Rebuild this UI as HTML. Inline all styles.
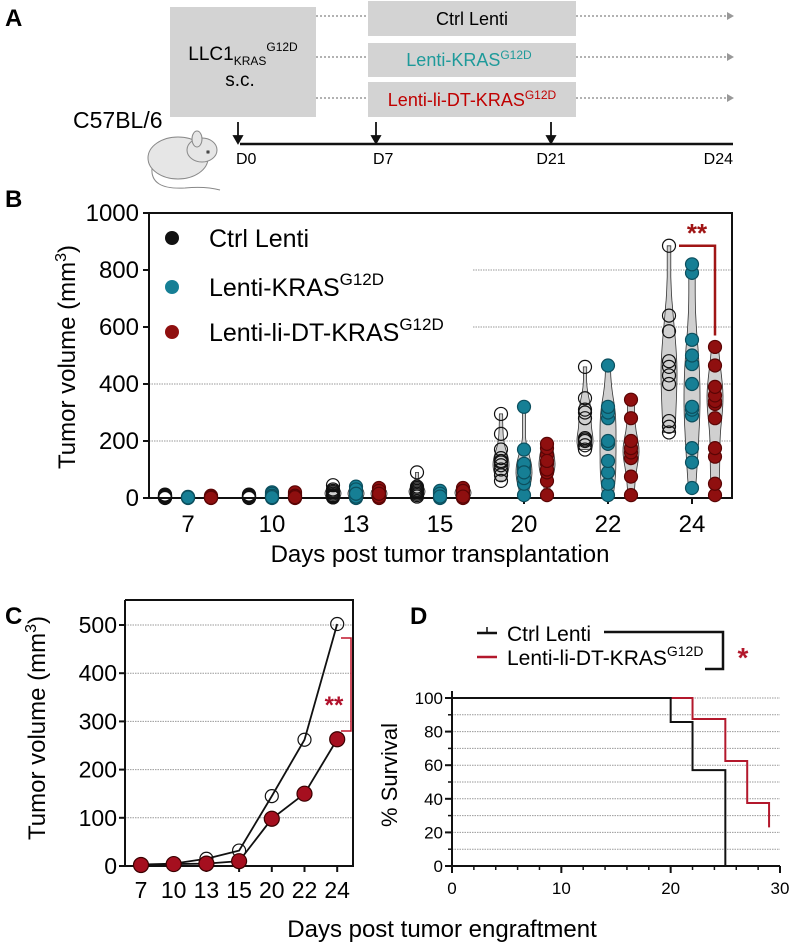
<!DOCTYPE html>
<html><head><meta charset="utf-8">
<style>
html,body{margin:0;padding:0;background:#fff;}
svg{display:block;font-family:"Liberation Sans",Arial,sans-serif;}
</style></head>
<body>
<svg id="fig" width="792" height="944" viewBox="0 0 792 944" xmlns="http://www.w3.org/2000/svg">
<!-- Panel A -->
<g>
<text x="5" y="26" font-size="24" font-weight="bold">A</text>
<rect x="170" y="7" width="146" height="110" fill="#d3d3d3"/>
<text x="243" y="60" font-size="19" text-anchor="middle">LLC1<tspan font-size="12" dy="5">KRAS</tspan><tspan font-size="12" dy="-14">G12D</tspan></text>
<text x="240" y="86" font-size="19" text-anchor="middle">s.c.</text>
<rect x="368" y="1" width="208" height="35" fill="#d3d3d3"/>
<rect x="368" y="43" width="208" height="34" fill="#d3d3d3"/>
<rect x="368" y="82" width="208" height="35" fill="#d3d3d3"/>
<text x="472" y="25" font-size="18" text-anchor="middle">Ctrl Lenti</text>
<text x="469" y="66" font-size="18" text-anchor="middle" fill="#1e9a9a">Lenti-KRAS<tspan font-size="12" dy="-7">G12D</tspan></text>
<text x="472" y="106" font-size="18" text-anchor="middle" fill="#c00000">Lenti-li-DT-KRAS<tspan font-size="12" dy="-7">G12D</tspan></text>
<g stroke="#999" stroke-width="1.5" stroke-dasharray="2,2">
<line x1="316" y1="16" x2="368" y2="16"/><line x1="316" y1="57" x2="368" y2="57"/><line x1="316" y1="98" x2="368" y2="98"/>
<line x1="576" y1="16" x2="728" y2="16"/><line x1="576" y1="57" x2="728" y2="57"/><line x1="576" y1="98" x2="728" y2="98"/>
</g>
<g fill="#999"><path d="M727,12 L734,16 L727,20Z"/><path d="M727,53 L734,57 L727,61Z"/><path d="M727,94 L734,98 L727,102Z"/></g>
<line x1="240" y1="144" x2="733" y2="144" stroke="#111" stroke-width="2.5"/>
<g stroke="#111" stroke-width="1.8" fill="#111">
<line x1="238" y1="122" x2="238" y2="138"/><path d="M234,136 L238,143 L242,136Z"/>
<line x1="376" y1="122" x2="376" y2="138"/><path d="M372,136 L376,143 L380,136Z"/>
<line x1="551" y1="122" x2="551" y2="138"/><path d="M547,136 L551,143 L555,136Z"/>
</g>
<g font-size="16">
<text x="236" y="164">D0</text><text x="373" y="164">D7</text><text x="551" y="164" text-anchor="middle">D21</text><text x="733" y="164" text-anchor="end">D24</text>
</g>
<text x="73" y="128" font-size="23">C57BL/6</text>
<g stroke="#888" stroke-width="1" fill="#e6e6e6">
<path d="M152,168 Q150,190 185,188 Q205,186 220,190" fill="none"/>
<ellipse cx="178" cy="158" rx="30" ry="21"/>
<ellipse cx="202" cy="150" rx="15" ry="12"/>
<ellipse cx="197" cy="139" rx="5" ry="8"/>
<circle cx="208" cy="152" r="1.5" fill="#333"/>
</g>
</g>

<!-- Panel B -->
<g id="pb">
<text x="5" y="207" font-size="24" font-weight="bold">B</text>
</g>
<!-- Panel C -->
<g id="pc">
<text x="5" y="624" font-size="24" font-weight="bold">C</text>
</g>
<!-- Panel D -->
<g id="pd">
<text x="410" y="624" font-size="24" font-weight="bold">D</text>
</g>
<text x="442" y="937" font-size="24" text-anchor="middle">Days post tumor engraftment</text>
</svg>
<script>
// ---------- Panel B data ----------
const bDays = ["7","10","13","15","20","22","24"];
const bCtrl = [[5,10,2,0,8,3,12,4,6],[5,8,10,3,0,12,6,2],[5,10,20,30,45,15,8,25,2],[10,20,30,40,90,25,15,35,5],[60,80,100,115,125,130,170,225,295,140],[170,185,200,205,210,280,300,310,350,460],[230,250,270,400,430,460,480,585,640,885]];
const bKras = [[0,2,3,1,4,2],[0,5,10,20,15,8,3],[0,10,20,40,30,5,15],[0,10,20,25,15,5],[10,50,70,100,110,120,170,320,90],[10,50,90,130,190,280,300,320,465,200],[35,125,175,290,310,320,400,470,500,555,790,820]];
const bLiDT = [[0,2,5,8,3,1],[0,5,10,15,20,8,3],[0,10,20,35,25,5,15],[0,10,20,30,35,25,5],[10,60,90,120,150,175,190,100,130],[10,75,140,160,175,200,280,345],[10,50,145,175,280,330,340,360,390,465,530]];
const bTicks = [0,200,400,600,800,1000];
// ---------- Panel C data ----------
const cDays = ["7","10","13","15","20","22","24"];
const cCtrl = [3,5,15,32,145,262,502];
const cLiDT = [2,4,5,10,98,150,263];
const cTicks = [0,100,200,300,400,500];
// ---------- Panel D data ----------
const dCtrlT = [0,20,22,25];
const dCtrlS = [100,85.7,57.1,0];
const dRedT = [0,22,25,27,29];
const dRedS = [100,87.5,62.5,37.5,25];
const dXTicks = [0,10,20,30];
const dYTicks = [0,20,40,60,80,100];

const NS = "http://www.w3.org/2000/svg";
function mk(parent, tag, attrs){const e=document.createElementNS(NS,tag);for(const k in attrs)e.setAttribute(k,attrs[k]);parent.appendChild(e);return e;}

// ===== Panel B =====
(function(){
 const g=document.getElementById('pb');
 const L=149,R=732,T=213,B=498;
 const y=v=>B-(v/1000)*(B-T);
 const xc=i=>188+84*i;
 bTicks.forEach(t=>{ if(t===0||t===1000)return;
   const gl=mk(g,'line',{x1:t>=600?473:L,x2:R,y1:y(t),y2:y(t),stroke:'#999','stroke-width':1,'stroke-dasharray':'1.5,1'});
   
   
 });
 const fr=mk(g,'rect',{x:L,y:T,width:R-L,height:B-T,fill:'none',stroke:'#111','stroke-width':2});
 
 
 bTicks.forEach(t=>{
   mk(g,'line',{x1:L-6,x2:L,y1:y(t),y2:y(t),stroke:'#111','stroke-width':2});
   const tx=mk(g,'text',{x:L-10,y:y(t)+8,'font-size':24,'text-anchor':'end'});tx.textContent=t;
   
   
 });
 bDays.forEach((d,i)=>{
   mk(g,'line',{x1:xc(i),x2:xc(i),y1:B,y2:B+6,stroke:'#111','stroke-width':2});
   const tx=mk(g,'text',{x:xc(i),y:532,'font-size':24,'text-anchor':'middle'});tx.textContent=d;
   
   
 });
 const series=[{d:bCtrl,off:-23,fill:'none',stroke:'#111',name:'ctrl'},{d:bKras,off:0,fill:'#167f95',stroke:'#0c4f5e',name:'kras'},{d:bLiDT,off:23,fill:'#8f0f0f',stroke:'#5a0505',name:'lidt'}];
 series.forEach(s=>{
   s.d.forEach((vals,i)=>{
     const cx=xc(i)+s.off;
     const mn=Math.min(...vals),mx=Math.max(...vals);
     const bw=Math.max(20,(mx-mn)*0.15);
     const steps=24,pts=[],pts2=[];
     let dens=[];
     for(let k=0;k<=steps;k++){const v=mn+(mx-mn)*k/steps;let s2=0;vals.forEach(q=>{s2+=Math.exp(-0.5*((v-q)/bw)**2);});dens.push([v,s2]);}
     const dm=Math.max(...dens.map(a=>a[1]));
     dens.forEach(a=>{const w=Math.max(1.5,8*a[1]/dm);pts.push((cx-w).toFixed(1)+','+y(a[0]).toFixed(1));pts2.unshift((cx+w).toFixed(1)+','+y(a[0]).toFixed(1));});
     if(mx-mn>30){
       const vp=mk(g,'polygon',{points:pts.concat(pts2).join(' '),fill:'#d0d0d0',stroke:'#333','stroke-width':0.8});
       
       
     }
     vals.forEach(v=>{
       const c=mk(g,'circle',{cx:cx,cy:y(v),r:6.5,fill:s.fill,stroke:s.stroke,'stroke-width':1.2});
       
       
     });
   });
 });
 const leg=[['Ctrl Lenti','#111',''],['Lenti-KRAS','#167f95','G12D'],['Lenti-li-DT-KRAS','#8f0f0f','G12D']];
 const ly=[238,287,332];
 leg.forEach((l,k)=>{
   const c=mk(g,'circle',{cx:172,cy:ly[k],r:7,fill:l[1]});
   
   
   const t=mk(g,'text',{x:209,y:ly[k]+9,'font-size':25});
   
   
   t.textContent=l[0];
   if(l[2]){const sp=mk(t,'tspan',{'font-size':17,dy:-11});sp.textContent=l[2];}
 });
 const br=mk(g,'path',{d:`M${xc(6)-23+10},${y(885)} H${xc(6)+23} V${y(570)}`,fill:'none',stroke:'#a01515','stroke-width':2.5});
 
 
 const st=mk(g,'text',{x:xc(6)+5,y:y(885)-4,'font-size':26,'font-weight':'bold',fill:'#a01515','text-anchor':'middle'});st.textContent='**';
 
 
 const yl=mk(g,'text',{x:0,y:0,'font-size':24,'text-anchor':'middle',transform:'translate(75,357) rotate(-90)'});
 
 
 yl.textContent='Tumor volume (mm';const s3=mk(yl,'tspan',{'font-size':16,dy:-9});s3.textContent='3';const s4=mk(yl,'tspan',{dy:9});s4.textContent=')';
 const xl=mk(g,'text',{x:440,y:562,'font-size':24,'text-anchor':'middle'});xl.textContent='Days post tumor transplantation';
 
 
})();

// ===== Panel C =====
(function(){
 const g=document.getElementById('pc');
 const L=125,R=353,T=600,B=866;
 const y=v=>B-(v/500)*(B-625);
 const x=i=>141+32.7*i;
 cTicks.forEach(t=>{
   if(t>0){const gl=mk(g,'line',{x1:L,x2:R,y1:y(t),y2:y(t),stroke:'#999','stroke-width':1,'stroke-dasharray':'1.5,1'});
   
   }
   mk(g,'line',{x1:L-6,x2:L,y1:y(t),y2:y(t),stroke:'#111','stroke-width':2});
   const tx=mk(g,'text',{x:L-8,y:y(t)+8,'font-size':23,'text-anchor':'end'});tx.textContent=t;
   
   
 });
 const fr=mk(g,'path',{d:`M${L},${T} V${B} H${R} V${T} H${L}`,fill:'none',stroke:'#111','stroke-width':2});
 
 
 cDays.forEach((d,i)=>{
   mk(g,'line',{x1:x(i),x2:x(i),y1:B,y2:B+6,stroke:'#111','stroke-width':2});
   const tx=mk(g,'text',{x:x(i),y:898,'font-size':23,'text-anchor':'middle'});tx.textContent=d;
   
   
 });
 [[cCtrl,'ctrl'],[cLiDT,'lidt']].forEach(s=>{
   const ln=mk(g,'polyline',{points:s[0].map((v,i)=>x(i)+','+y(v)).join(' '),fill:'none',stroke:'#111','stroke-width':1.8});
   
   
 });
 [[cCtrl,'#fff','#111','ctrl'],[cLiDT,'#a50f1f','#3a0000','lidt']].forEach(s=>{
   s[0].forEach((v,i)=>{
     const c=mk(g,'circle',{cx:x(i),cy:y(v),r:s[3]==='ctrl'?6.5:7.5,fill:s[3]==='ctrl'?'none':s[1],stroke:s[2],'stroke-width':1.2});
     
     
   });
 });
 const br=mk(g,'path',{d:`M341,638 H351 V731 H341`,fill:'none',stroke:'#c0142a','stroke-width':1.5});
 
 
 const st=mk(g,'text',{x:334,y:713,'font-size':24,'font-weight':'bold',fill:'#b0102a','text-anchor':'middle'});st.textContent='**';
 
 
 const yl=mk(g,'text',{x:0,y:0,'font-size':24,'text-anchor':'middle',transform:'translate(45,728) rotate(-90)'});
 
 
 yl.textContent='Tumor volume (mm';const s3=mk(yl,'tspan',{'font-size':16,dy:-9});s3.textContent='3';const s4=mk(yl,'tspan',{dy:9});s4.textContent=')';
})();

// ===== Panel D =====
(function(){
 const g=document.getElementById('pd');
 const L=452,R=780,B=866;
 const x=t=>L+(t/30)*(R-L);
 const y=v=>B-(v/100)*(B-698);
 for(let v=10;v<=100;v+=10){
   const gl=mk(g,'line',{x1:L,x2:R,y1:y(v),y2:y(v),stroke:'#999','stroke-width':1,'stroke-dasharray':'1.5,1'});
   
   
   mk(g,'line',{x1:L-4,x2:L,y1:y(v),y2:y(v),stroke:'#111','stroke-width':1.5});
 }
 mk(g,'line',{x1:L,x2:L,y1:691,y2:B,stroke:'#111','stroke-width':2});
 mk(g,'line',{x1:L,x2:R,y1:B,y2:B,stroke:'#111','stroke-width':2});
 dYTicks.forEach(t=>{
   mk(g,'line',{x1:L-7,x2:L,y1:y(t),y2:y(t),stroke:'#111','stroke-width':2});
   const tx=mk(g,'text',{x:L-9,y:y(t)+6,'font-size':17,'text-anchor':'end'});tx.textContent=t;
   
   
 });
 for(let t=0;t<=30;t+=2){mk(g,'line',{x1:x(t),x2:x(t),y1:B,y2:B+4,stroke:'#111','stroke-width':1.5});}
 dXTicks.forEach(t=>{
   mk(g,'line',{x1:x(t),x2:x(t),y1:B,y2:B+7,stroke:'#111','stroke-width':2});
   const tx=mk(g,'text',{x:x(t),y:894,'font-size':17,'text-anchor':'middle'});tx.textContent=t;
   
   
 });
 function step(T,S,end){let d=`M${x(T[0])},${y(S[0])}`;for(let i=1;i<T.length;i++){d+=` H${x(T[i])} V${y(S[i])}`;}if(end!==undefined)d+=` V${y(end)}`;return d;}
 const red=mk(g,'path',{d:step(dRedT,dRedS,dRedS[dRedS.length-1]-2),fill:'none',stroke:'#b3182c','stroke-width':2});
 
 
 const blk=mk(g,'path',{d:step(dCtrlT,dCtrlS),fill:'none',stroke:'#111','stroke-width':2});
 
 
 mk(g,'line',{x1:477,x2:497,y1:633,y2:633,stroke:'#111','stroke-width':2.5});
 mk(g,'line',{x1:487,x2:487,y1:627,y2:633,stroke:'#111','stroke-width':1.5});
 mk(g,'line',{x1:477,x2:497,y1:657,y2:657,stroke:'#b3182c','stroke-width':2.5});
 const t1=mk(g,'text',{x:507,y:641,'font-size':21});t1.textContent='Ctrl Lenti';
 
 
 const t2=mk(g,'text',{x:507,y:665,'font-size':21});t2.textContent='Lenti-li-DT-KRAS';
 
 
 const sp=mk(t2,'tspan',{'font-size':14,dy:-9});sp.textContent='G12D';
 const br=mk(g,'path',{d:'M604,632 H723 V669 H705',fill:'none',stroke:'#111','stroke-width':2.5});
 
 
 const st=mk(g,'text',{x:743,y:667,'font-size':28,'font-weight':'bold',fill:'#b3182c','text-anchor':'middle'});st.textContent='*';
 
 
 const yl=mk(g,'text',{x:0,y:0,'font-size':22,'text-anchor':'middle',transform:'translate(397,775) rotate(-90)'});yl.textContent='% Survival';
 
 
})();
</script>
</body></html>
